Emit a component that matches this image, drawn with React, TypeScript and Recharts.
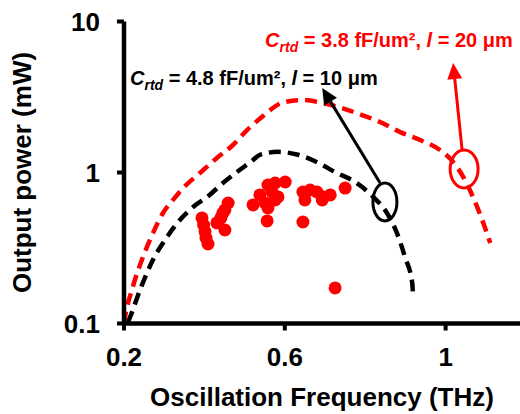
import React from 'react';
import { ComposedChart, Line, Scatter, XAxis, YAxis, ReferenceLine, ReferenceDot } from 'recharts';

const FONT = '"Liberation Sans", Arial, Helvetica, sans-serif';

const X_TICKS = [0.2, 0.6, 1];
const Y_TICKS = [0.1, 1, 10];

// Simulation, C_rtd = 3.8 fF/um2, l = 20 um (red dashed)
const RED_X = [0.2, 0.2025, 0.222, 0.247, 0.272, 0.297, 0.322, 0.347, 0.389, 0.431, 0.471, 0.506, 0.543, 0.593, 0.643, 0.693, 0.742, 0.792, 0.837, 0.887, 0.937, 0.986, 1.019, 1.044, 1.068, 1.091, 1.111];
const RED_Y = [0.1, 0.11, 0.175, 0.275, 0.397, 0.539, 0.658, 0.789, 0.993, 1.248, 1.521, 1.911, 2.33, 2.89, 3.02, 2.89, 2.67, 2.4, 2.16, 1.85, 1.64, 1.41, 1.17, 0.933, 0.689, 0.485, 0.341];

// Simulation, C_rtd = 4.8 fF/um2, l = 10 um (black dashed)
const BLACK_X = [0.21, 0.215, 0.24, 0.272, 0.307, 0.339, 0.372, 0.407, 0.446, 0.481, 0.521, 0.538, 0.583, 0.633, 0.683, 0.725, 0.775, 0.82, 0.854, 0.879, 0.899, 0.917, 0.919];
const BLACK_Y = [0.102, 0.11, 0.167, 0.264, 0.374, 0.485, 0.591, 0.689, 0.852, 1.007, 1.21, 1.31, 1.37, 1.31, 1.16, 1.007, 0.865, 0.689, 0.539, 0.397, 0.275, 0.185, 0.148];

// Measured devices (red dots)
const MEAS_X = [0.394, 0.398, 0.4015, 0.404, 0.409, 0.431, 0.441, 0.451, 0.446, 0.451, 0.459, 0.521, 0.538, 0.551, 0.558, 0.558, 0.568, 0.576, 0.576, 0.601, 0.583, 0.556, 0.645, 0.663, 0.68, 0.65, 0.695, 0.713, 0.693, 0.75, 0.645, 0.725];
const MEAS_Y = [0.5, 0.449, 0.406, 0.368, 0.336, 0.464, 0.5, 0.416, 0.539, 0.565, 0.628, 0.61, 0.71, 0.628, 0.826, 0.582, 0.743, 0.658, 0.852, 0.865, 0.689, 0.478, 0.743, 0.766, 0.743, 0.658, 0.689, 0.71, 0.658, 0.789, 0.47, 0.172];

// Annotations (data coordinates)
const RED_LABEL = { x: 0.551, y: 6.78, cap: '3.8', len: '20' };
const BLACK_LABEL = { x: 0.215, y: 3.79, cap: '4.8', len: '10' };
const BLACK_ARROW = [{ x: 0.837, y: 0.852 }, { x: 0.693, y: 3.63 }];
const RED_ARROW = [{ x: 1.041, y: 1.41 }, { x: 1.0186, y: 5.31 }];
const BLACK_RING = { x: 0.849, y: 0.638 };
const RED_RING = { x: 1.046, y: 1.055 };

const redData = RED_X.map((x, i) => ({ x, y: RED_Y[i] }));
const blackData = BLACK_X.map((x, i) => ({ x, y: BLACK_Y[i] }));
const measData = MEAS_X.map((x, i) => ({ x, y: MEAS_Y[i] }));

const RED = '#ff0000';
const BLACK = '#000000';

const arrowShape = (color: string, width: number) => (p: any) => {
  const { x1, y1, x2, y2 } = p;
  const ang = Math.atan2(y2 - y1, x2 - x1);
  const L = 16;
  const W = 7.5;
  const bx = x2 - L * Math.cos(ang);
  const by = y2 - L * Math.sin(ang);
  const px = -Math.sin(ang) * W;
  const py = Math.cos(ang) * W;
  return (
    <g>
      <line x1={x1} y1={y1} x2={bx} y2={by} stroke={color} strokeWidth={width} />
      <polygon points={`${x2},${y2} ${bx + px},${by + py} ${bx - px},${by - py}`} fill={color} />
    </g>
  );
};

const ringShape = (color: string, rx: number, ry: number) => (p: any) => (
  <ellipse cx={p.cx} cy={p.cy} rx={rx} ry={ry} fill="none" stroke={color} strokeWidth={3} />
);

const labelShape = (color: string, cap: string, len: string) => (p: any) => (
  <text x={p.cx} y={p.cy} fill={color} fontFamily={FONT} fontWeight="bold" fontSize={20} style={{ whiteSpace: 'pre' }}>
    <tspan fontStyle="italic">C</tspan>
    <tspan fontStyle="italic" fontSize={14} dy={5}>rtd</tspan>
    <tspan dy={-5}>{` = ${cap} fF/um\u00B2, `}</tspan>
    <tspan fontStyle="italic">l</tspan>
    <tspan>{` = ${len} \u03BCm`}</tspan>
  </text>
);

const dotShape = (p: any) => <circle cx={p.cx} cy={p.cy} r={6.5} fill={RED} />;

const tickStyle = { fill: '#000', fontSize: 26, fontWeight: 'bold', fontFamily: FONT };

export default function App() {
  return (
    <div style={{ position: 'absolute', left: 0, top: 0, width: 520, height: 414, background: '#fff' }}>
      <ComposedChart width={520} height={414} margin={{ top: 21.5, right: 0, left: 64, bottom: 30.5 }}>
        <XAxis
          dataKey="x"
          type="number"
          domain={[0.2, 1.185]}
          allowDataOverflow
          ticks={X_TICKS}
          tickFormatter={(v: number) => String(v)}
          height={60}
          axisLine={{ stroke: BLACK, strokeWidth: 4.5 }}
          tickLine={{ stroke: BLACK, strokeWidth: 4 }}
          tickSize={7}
          tickMargin={17}
          tick={tickStyle}
          label={{ value: 'Oscillation Frequency (THz)', position: 'bottom', offset: 4.5, fill: '#000', fontSize: 26, fontWeight: 'bold', fontFamily: FONT }}
        />
        <XAxis
          xAxisId="top"
          orientation="top"
          type="number"
          domain={[0.2, 1.185]}
          allowDataOverflow
          height={0}
          tick={false}
          tickLine={false}
          axisLine={{ stroke: BLACK, strokeWidth: 4.5 }}
        />
        <YAxis
          dataKey="y"
          type="number"
          scale="log"
          domain={[0.1, 10]}
          allowDataOverflow
          ticks={Y_TICKS}
          tickFormatter={(v: number) => String(v)}
          width={60}
          axisLine={{ stroke: BLACK, strokeWidth: 4.5 }}
          tickLine={{ stroke: BLACK, strokeWidth: 4 }}
          tickSize={7}
          tickMargin={17}
          tick={tickStyle}
          label={{ value: 'Output power (mW)', angle: -90, position: 'center', dx: -72, fill: '#000', fontSize: 26, fontWeight: 'bold', fontFamily: FONT }}
        />
        <Line data={redData} dataKey="y" type="monotone" stroke={RED} strokeWidth={4.5} strokeDasharray="12 7" dot={false} activeDot={false} isAnimationActive={false} />
        <Line data={blackData} dataKey="y" type="monotone" stroke={BLACK} strokeWidth={4.5} strokeDasharray="12 7" dot={false} activeDot={false} isAnimationActive={false} />
        <Scatter data={measData} dataKey="y" fill={RED} shape={dotShape} isAnimationActive={false} />
        <ReferenceLine segment={BLACK_ARROW} shape={arrowShape(BLACK, 3)} />
        <ReferenceLine segment={RED_ARROW} shape={arrowShape(RED, 3)} />
        <ReferenceDot x={BLACK_RING.x} y={BLACK_RING.y} r={12} shape={ringShape(BLACK, 12, 19)} />
        <ReferenceDot x={RED_RING.x} y={RED_RING.y} r={14} shape={ringShape(RED, 14, 19)} />
        <ReferenceDot x={RED_LABEL.x} y={RED_LABEL.y} r={1} shape={labelShape(RED, RED_LABEL.cap, RED_LABEL.len)} />
        <ReferenceDot x={BLACK_LABEL.x} y={BLACK_LABEL.y} r={1} shape={labelShape(BLACK, BLACK_LABEL.cap, BLACK_LABEL.len)} />
      </ComposedChart>
    </div>
  );
}
